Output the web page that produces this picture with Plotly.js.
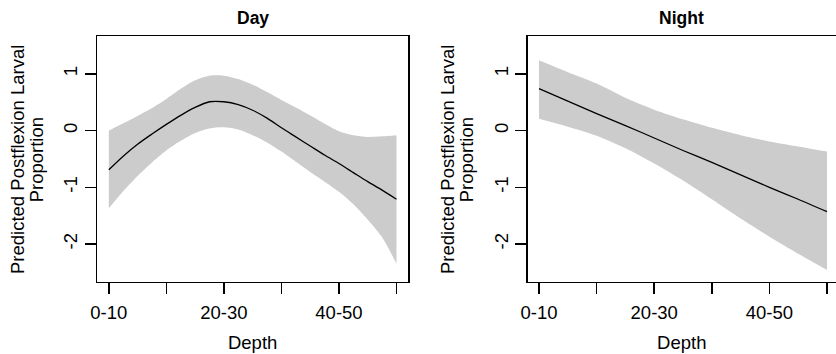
<!DOCTYPE html>
<html>
<head>
<meta charset="utf-8">
<script src="https://cdn.plot.ly/plotly-3.0.1.min.js"></script>
<style>html,body{margin:0;padding:0;background:#fff;overflow:hidden;}</style>
</head>
<body>
<div id="chart" style="width:836px;height:354px;"></div>
<script>
// Depth classes (positions 1..6 on the x axis)
const depthClasses = ["0-10", "10-20", "20-30", "30-40", "40-50", "50-60"];
const depthPos = [1, 2, 3, 4, 5, 6];
const shownTickText = ["0-10", "", "20-30", "", "40-50", ""];

// Day panel
const dayX = [1, 1.25, 1.5, 1.75, 2, 2.25, 2.5, 2.75, 3, 3.25, 3.5, 3.75, 4, 4.25, 4.5, 4.75, 5, 5.25, 5.5, 5.75, 6];
const dayFit = [-0.69, -0.45, -0.24, -0.06, 0.11, 0.27, 0.41, 0.51, 0.51, 0.46, 0.36, 0.22, 0.05, -0.11, -0.27, -0.43, -0.58, -0.74, -0.90, -1.05, -1.21];
const dayUpper = [0.00, 0.13, 0.26, 0.40, 0.56, 0.74, 0.89, 0.97, 0.97, 0.91, 0.81, 0.68, 0.54, 0.41, 0.27, 0.12, -0.01, -0.08, -0.11, -0.10, -0.08];
const dayLower = [-1.37, -1.07, -0.80, -0.56, -0.35, -0.18, -0.04, 0.04, 0.06, 0.02, -0.08, -0.21, -0.37, -0.55, -0.73, -0.90, -1.08, -1.30, -1.57, -1.88, -2.35];

// Night panel
const nightX = [1, 1.5, 2, 2.5, 3, 3.5, 4, 4.5, 5, 5.5, 6];
const nightFit = [0.74, 0.52, 0.30, 0.09, -0.13, -0.35, -0.56, -0.78, -1.00, -1.21, -1.43];
const nightUpper = [1.24, 1.03, 0.83, 0.58, 0.37, 0.20, 0.05, -0.08, -0.19, -0.28, -0.37];
const nightLower = [0.21, 0.07, -0.09, -0.31, -0.58, -0.88, -1.21, -1.55, -1.87, -2.17, -2.46];

const yTicks = [-2, -1, 0, 1];
const panelTitles = ["Day", "Night"];
const xTitle = "Depth";
const yTitleLines = ["Predicted Postflexion Larval", "Proportion"];

const FONT = "Liberation Sans, Arial, Helvetica, sans-serif";
const BAND = "#cccccc";

function band(x, lo, hi, xa, ya) {
  return [
    {x: x, y: lo, xaxis: xa, yaxis: ya, type: "scatter", mode: "lines",
     line: {width: 0, shape: "spline", smoothing: 0.8, color: BAND}, hoverinfo: "skip", showlegend: false},
    {x: x, y: hi, xaxis: xa, yaxis: ya, type: "scatter", mode: "lines", fill: "tonexty",
     fillcolor: BAND, line: {width: 0, shape: "spline", smoothing: 0.8, color: BAND}, hoverinfo: "skip", showlegend: false}
  ];
}
function fit(x, y, xa, ya) {
  return {x: x, y: y, xaxis: xa, yaxis: ya, type: "scatter", mode: "lines",
          line: {color: "#000", width: 1.3, shape: "spline", smoothing: 0.8}, showlegend: false};
}

const traces = [].concat(
  band(dayX, dayLower, dayUpper, "x", "y"),
  [fit(dayX, dayFit, "x", "y")],
  band(nightX, nightLower, nightUpper, "x2", "y2"),
  [fit(nightX, nightFit, "x2", "y2")]
);

const xBase = {
  tickmode: "array", tickvals: depthPos, ticktext: shownTickText,
  ticks: "outside", ticklen: 11, tickwidth: 1.5, tickcolor: "#000",
  ticklabelstandoff: 3,
  showline: true, linecolor: "#000", linewidth: 1.5,
  showgrid: false, zeroline: false, fixedrange: true,
  tickfont: {family: FONT, size: 18.5, color: "#000"},
  title: {text: xTitle, font: {family: FONT, size: 18.5, color: "#000"}, standoff: 13}
};
const yBase = {
  range: [-2.665, 1.67], tickmode: "array", tickvals: yTicks, ticktext: yTicks.map(String),
  tickangle: -90,
  ticks: "outside", ticklen: 11, tickwidth: 1.5, tickcolor: "#000",
  showline: true, linecolor: "#000", linewidth: 1.5,
  showgrid: false, zeroline: false, fixedrange: true,
  tickfont: {family: FONT, size: 18.5, color: "#000"}
};

const W = 836, H = 354, L = 97.3, T = 36, B = 72.3;
const midY = 1 - (159.5 / H);

function yTitleAnn(px, text) {
  return {text: text, xref: "paper", yref: "paper", x: px / W, y: midY, xanchor: "center", yanchor: "middle",
          textangle: -90, showarrow: false, font: {family: FONT, size: 18.5, color: "#000"}};
}

const layout = {
  width: W, height: H,
  margin: {l: 0, r: 0, t: 0, b: 0, pad: 0},
  paper_bgcolor: "#fff", plot_bgcolor: "#fff",
  showlegend: false,
  xaxis: Object.assign({}, xBase, {domain: [L / W, 408 / W], range: [0.8, 6.2], mirror: true, anchor: "y"}),
  yaxis: Object.assign({}, yBase, {domain: [B / H, 1 - T / H], mirror: true, anchor: "x"}),
  xaxis2: Object.assign({}, xBase, {domain: [527.5 / W, 1], range: [0.8, 6.156], mirror: true, anchor: "y2"}),
  yaxis2: Object.assign({}, yBase, {domain: [B / H, 1 - T / H], mirror: false, anchor: "x2"}),
  annotations: [
    {text: "<b>" + panelTitles[0] + "</b>", xref: "x domain", yref: "paper", x: 0.5, y: 1 - T / H, yanchor: "bottom",
     yshift: 6, showarrow: false, font: {family: FONT, size: 17.5, color: "#000"}},
    {text: "<b>" + panelTitles[1] + "</b>", xref: "x2 domain", yref: "paper", x: 0.5, y: 1 - T / H, yanchor: "bottom",
     yshift: 6, showarrow: false, font: {family: FONT, size: 17.5, color: "#000"}},
    yTitleAnn(17.5, yTitleLines[0]),
    yTitleAnn(36.8, yTitleLines[1]),
    yTitleAnn(447.5, yTitleLines[0]),
    yTitleAnn(466.8, yTitleLines[1])
  ]
};

Plotly.newPlot("chart", traces, layout, {displayModeBar: false, staticPlot: true});
</script>
</body>
</html>
